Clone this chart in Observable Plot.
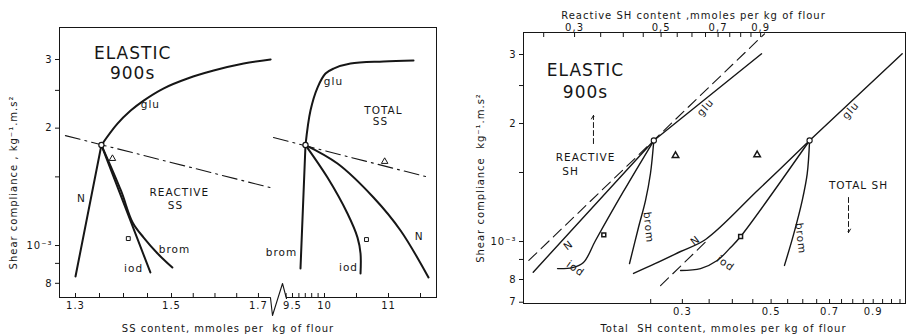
<!DOCTYPE html>
<html>
<head>
<meta charset="utf-8">
<script src="https://cdn.jsdelivr.net/npm/d3@7"></script>
<script src="https://cdn.jsdelivr.net/npm/@observablehq/plot@0.6"></script>
<style>
  html, body { margin: 0; padding: 0; background: #fff; }
  #fig { position: relative; width: 909px; height: 335px; overflow: hidden; background: #fff; }
  #fig svg { position: absolute; top: 0; }
</style>
</head>
<body>
<div id="fig"></div>
<script>
// Shear compliance after 900 s of creep, in units of 10⁻³ kg⁻¹.m.s²
// Every curve starts from the untreated flour (open circle).

// ---------- Left panel: SS content, mmoles per kg of flour ----------
const ssControl   = [[1.354, 1.81], [9.703, 1.81]];
const ssTriangles = [[1.377, 1.671], [10.94, 1.642]];
const ssSquares   = [[1.410, 1.042], [10.656, 1.036]];

const ssReactiveGlu   = [[1.354, 1.81], [1.387, 2.051], [1.415, 2.219], [1.442, 2.354], [1.483, 2.527], [1.537, 2.681], [1.597, 2.81], [1.666, 2.929], [1.728, 3.0]];
const ssReactiveN     = [[1.354, 1.81], [1.300, 0.833]];
const ssReactiveIod   = [[1.354, 1.81], [1.456, 0.853]];
const ssReactiveBrom  = [[1.354, 1.81], [1.395, 1.38], [1.419, 1.146], [1.442, 1.048], [1.471, 0.954], [1.502, 0.878]];
const ssReactiveTrend = [[1.279, 1.914], [1.727, 1.408]];

const ssTotalGlu   = [[9.703, 1.81], [9.781, 2.219], [9.891, 2.542], [10.016, 2.761], [10.141, 2.843], [10.406, 2.929], [10.922, 2.964], [11.391, 2.982]];
const ssTotalBrom  = [[9.703, 1.81], [9.625, 0.873]];
const ssTotalIod   = [[9.703, 1.81], [10.047, 1.494], [10.359, 1.208], [10.516, 1.048], [10.563, 0.954], [10.563, 0.848]];
const ssTotalN     = [[9.703, 1.81], [10.203, 1.623], [10.766, 1.328], [11.188, 1.093], [11.625, 0.828]];
const ssTotalTrend = [[9.203, 1.892], [11.578, 1.503]];

const ssTicks      = [1.3, 1.35, 1.4, 1.45, 1.5, 1.55, 1.6, 1.65, 1.7, 9.4, 9.5, 9.6, 9.7, 9.8, 9.9, 10, 10.5, 11, 11.5];
const ssTickLabels = [1.3, 1.5, 1.7, 9.5, 10, 11];
const ssAxisSegments = [[1.2667, 1.7276], [9.406, 11.75]];
const ssBreak = [[1.7276, 0.7357], [9.1875, 0.6614], [9.344, 0.7991], [9.406, 0.7312]];

const ssLabels = [
  {text: "glu", x: 1.456, y: 2.299}, {text: "N", x: 1.3125, y: 1.32},
  {text: "REACTIVE", x: 1.518, y: 1.368}, {text: "SS", x: 1.509, y: 1.266},
  {text: "iod", x: 1.421, y: 0.873}, {text: "brom", x: 1.507, y: 0.977},
  {text: "glu", x: 10.14, y: 2.634}, {text: "TOTAL", x: 10.92, y: 2.219}, {text: "SS", x: 10.875, y: 2.08},
  {text: "brom", x: 9.328, y: 0.9595}, {text: "iod", x: 10.375, y: 0.878}, {text: "N", x: 11.48, y: 1.055}
];
const ssTitle = [{text: "ELASTIC", x: 1.419, y: 3.107}, {text: "900s", x: 1.419, y: 2.761}];

// ---------- Right panel: SH content (log–log) ----------
const shReactiveControl = [[0.479, 1.81]];
const shReactiveTriangle = [[0.5445, 1.657]];
const shReactiveSquare = [[0.3565, 1.040]];
const shReactiveGlu   = [[0.479, 1.81], [0.905, 3.012]];
const shReactiveN     = [[0.479, 1.81], [0.235, 0.835]];
const shReactiveLimit = [[0.229, 0.895], [0.921, 3.388]];
const shReactiveIod   = [[0.479, 1.81], [0.40, 1.34], [0.3395, 1.006], [0.3162, 0.884], [0.2963, 0.858], [0.2713, 0.853]];
const shReactiveBrom  = [[0.479, 1.81], [0.4696, 1.491], [0.456, 1.272], [0.4375, 1.086], [0.415, 0.879]];

const shTotalControl = [[0.624, 1.81]];
const shTotalTriangle = [[0.4614, 1.664]];
const shTotalSquare = [[0.4195, 1.030]];
const shTotalGlu   = [[0.624, 1.81], [1.0635, 3.012]];
const shTotalN     = [[0.624, 1.81], [0.4624, 1.349], [0.3428, 1.012], [0.2969, 0.943], [0.257, 0.879], [0.2265, 0.829]];
const shTotalLimit = [[0.2646, 0.772], [0.3494, 1.016]];
const shTotalIod   = [[0.624, 1.81], [0.4195, 1.03], [0.3959, 0.9654], [0.3666, 0.8943], [0.3331, 0.853], [0.2969, 0.8435]];
const shTotalBrom  = [[0.624, 1.81], [0.6155, 1.488], [0.598, 1.272], [0.5696, 1.046], [0.540, 0.869]];

const shReactiveTicks = [0.25, 0.3, 0.35, 0.4, 0.45, 0.5, 0.55, 0.6, 0.65, 0.7, 0.75, 0.8, 0.85, 0.9];
const shTotalTicks = [0.25, 0.3, 0.35, 0.4, 0.45, 0.5, 0.55, 0.6, 0.65, 0.7, 0.75, 0.8, 0.85, 0.9, 0.95, 1.0, 1.05];
const shTickLabels = [0.3, 0.5, 0.7, 0.9];

const shReactiveText = [
  {text: "REACTIVE", x: 0.32, y: 1.638}, {text: "SH", x: 0.2929, y: 1.509}
];
const shReactiveTitle = [{text: "ELASTIC", x: 0.32, y: 2.731}, {text: "900s", x: 0.32, y: 2.399}];
const shReactiveArrow = [{x: 0.3354, from: 1.778, to: 2.097}];
const shReactiveCurveLabels = [
  {text: "glu", x: 0.650, y: 2.197, angle: "glu"}, {text: "N", x: 0.2894, y: 0.977, angle: "N"},
  {text: "iod", x: 0.3015, y: 0.853, angle: "iod"}, {text: "brom", x: 0.4642, y: 1.086, angle: "brom"}
];
const shTotalText = [{text: "TOTAL SH", x: 0.827, y: 1.39}];
const shTotalArrow = [{x: 0.7807, from: 1.295, to: 1.054}];
const shTotalCurveLabels = [
  {text: "glu", x: 0.790, y: 2.159, angle: "glu"}, {text: "N", x: 0.3236, y: 1.006, angle: "N"},
  {text: "iod", x: 0.3846, y: 0.879, angle: "iod"}, {text: "brom", x: 0.5923, y: 1.018, angle: "brom"}
];

// compliance ticks: 3, 2.5, 2, 1.5 ×10⁻³ …
const yTicksLeft = [3, 2.5, 2, 1.5, 1, 0.9, 0.8];
const yTicksRight = [3, 2.5, 2, 1.5, 1, 0.9, 0.8, 0.7];
const yTickText = {"3": "3", "2": "2", "1": "10⁻³", "0.8": "8", "0.7": "7"};

// ---------- drawing ----------
const INK = "#161616";
const xy = {x: d => d[0], y: d => d[1]};
const rotation = {glu: -48, N: -38, iod: 35, brom: 84};
const style = {fontFamily: "DejaVu Sans", fontSize: "10px", color: INK, background: "none", letterSpacing: "1px", overflow: "visible"};
const titleStyle = "letter-spacing:1.3px";
const yFormat = d => yTickText[String(d)] ?? "";

function curve(data, opts = {}) {
  return Plot.line(data, {...xy, stroke: INK, curve: "catmull-rom", strokeLinecap: "round", ...opts});
}
// inward tick marks only (no text)
function innerTicks(ticks, anchor) {
  return Plot.axisX({anchor, ticks, tickSize: -4, fill: "none", label: null, stroke: INK});
}
function tickLabels(ticks, anchor, format, padding) {
  return Plot.axisX({anchor, ticks, tickSize: 0, tickPadding: padding, tickFormat: format, label: null, fontSize: 10});
}

const ssY = [0.7357, 3.624];
const ssPlot = Plot.plot({
  width: 460, height: 335,
  marginLeft: 59, marginRight: 24, marginTop: 27, marginBottom: 38,
  style,
  x: {type: "linear", domain: [1.3, 1.5, 1.73, 9.172, 11], range: [75, 171, 271, 271, 388]},
  y: {type: "log", domain: ssY},
  marks: [
    Plot.frame({anchor: "top", stroke: INK}),
    Plot.frame({anchor: "left", stroke: INK}),
    Plot.frame({anchor: "right", stroke: INK}),
    Plot.ruleY(ssAxisSegments, {y: ssY[0], x1: d => d[0], x2: d => d[1], stroke: INK}),
    Plot.line(ssBreak, {...xy, stroke: INK, strokeWidth: 1.1}),
    innerTicks(ssTicks, "bottom"),
    tickLabels(ssTickLabels, "bottom", d => String(d), 4),
    Plot.axisY({ticks: yTicksLeft, tickSize: 4, tickPadding: 3, tickFormat: yFormat, label: null, fontSize: 10}),
    Plot.text(["Shear compliance , kg⁻¹.m.s²"], {frameAnchor: "left", textAnchor: "middle", lineAnchor: "middle", dx: -46, dy: 20, rotate: -90, fontSize: 10, style: titleStyle}),
    Plot.text(["SS content, mmoles per  kg of flour"], {frameAnchor: "bottom", lineAnchor: "middle", dx: -20, dy: 31, fontSize: 10, style: titleStyle}),
    curve(ssReactiveTrend, {strokeWidth: 1.1, strokeDasharray: "15,5,2,5"}),
    curve(ssTotalTrend, {strokeWidth: 1.1, strokeDasharray: "15,5,2,5"}),
    curve(ssReactiveGlu, {strokeWidth: 2}),
    curve(ssReactiveN, {strokeWidth: 2}),
    curve(ssReactiveIod, {strokeWidth: 2}),
    curve(ssReactiveBrom, {strokeWidth: 2}),
    curve(ssTotalGlu, {strokeWidth: 2}),
    curve(ssTotalBrom, {strokeWidth: 2}),
    curve(ssTotalIod, {strokeWidth: 2}),
    curve(ssTotalN, {strokeWidth: 2}),
    Plot.dot(ssControl, {...xy, r: 2.6, fill: "white", stroke: INK, strokeWidth: 1.2}),
    Plot.dot(ssTriangles, {...xy, symbol: "triangle", r: 2.4, fill: "none", stroke: INK, strokeWidth: 1}),
    Plot.dot(ssSquares, {...xy, symbol: "square", r: 2.2, fill: "none", stroke: INK, strokeWidth: 1}),
    Plot.text(ssLabels, {x: "x", y: "y", text: "text", fontSize: 10.5, fill: INK}),
    Plot.text(ssTitle, {x: "x", y: "y", text: "text", fontSize: 17, fill: INK, style: "letter-spacing:2px"})
  ]
});

const shY = [0.6948, 3.414];
const shFrame = {width: 449, height: 335, marginLeft: 63, marginRight: 4, marginTop: 32, marginBottom: 32, style};

const shTotalPlot = Plot.plot({
  ...shFrame,
  x: {type: "log", domain: [0.1202, 1.0839]},
  y: {type: "log", domain: shY},
  marks: [
    Plot.frame({stroke: INK}),
    innerTicks(shTotalTicks, "bottom"),
    tickLabels(shTickLabels, "bottom", d => d.toFixed(1), 4),
    Plot.axisY({ticks: yTicksRight, tickSize: 4, tickPadding: 3, tickFormat: yFormat, label: null, fontSize: 10}),
    Plot.text(["Shear compliance  kg⁻¹.m.s²"], {frameAnchor: "left", textAnchor: "middle", lineAnchor: "middle", dx: -43, dy: 10, rotate: -90, fontSize: 10, style: titleStyle}),
    Plot.text(["Total  SH content, mmoles per kg of flour"], {frameAnchor: "bottom", lineAnchor: "middle", dx: 9, dy: 25, fontSize: 10, style: titleStyle}),
    curve(shTotalLimit, {strokeWidth: 1.1, strokeDasharray: "11,6"}),
    curve(shTotalGlu, {strokeWidth: 1.4}),
    curve(shTotalN, {strokeWidth: 1.4}),
    curve(shTotalIod, {strokeWidth: 1.4}),
    curve(shTotalBrom, {strokeWidth: 1.4}),
    Plot.dot(shTotalControl, {...xy, r: 2.6, fill: "white", stroke: INK, strokeWidth: 1.1}),
    Plot.dot(shTotalTriangle, {...xy, symbol: "triangle", r: 2.4, fill: "none", stroke: INK}),
    Plot.dot(shTotalSquare, {...xy, symbol: "square", r: 2.2, fill: "white", stroke: INK}),
    Plot.text(shTotalText, {x: "x", y: "y", text: "text", fontSize: 10.5, fill: INK}),
    Plot.arrow(shTotalArrow, {x1: "x", x2: "x", y1: "from", y2: "to", stroke: INK, strokeWidth: 1, strokeDasharray: "5,3", headLength: 6}),
    ...Object.keys(rotation).map(k => Plot.text(shTotalCurveLabels.filter(d => d.angle === k), {x: "x", y: "y", text: "text", rotate: rotation[k], fontSize: 10.5, fill: INK}))
  ]
});

// Same frame and compliance scale, but x follows the reactive SH content on the top axis
const shReactivePlot = Plot.plot({
  ...shFrame,
  x: {type: "log", domain: [0.2219, 2.117]},
  y: {type: "log", domain: shY, axis: null},
  marks: [
    innerTicks(shReactiveTicks, "top"),
    tickLabels(shTickLabels, "top", d => d.toFixed(1).replace(".", ","), 2),
    Plot.text(["Reactive SH content ,mmoles per kg of flour"], {frameAnchor: "top", lineAnchor: "middle", dx: -21, dy: -17, fontSize: 10, style: titleStyle}),
    curve(shReactiveLimit, {strokeWidth: 1.1, strokeDasharray: "11,6"}),
    curve(shReactiveGlu, {strokeWidth: 1.4}),
    curve(shReactiveN, {strokeWidth: 1.4}),
    curve(shReactiveIod, {strokeWidth: 1.4}),
    curve(shReactiveBrom, {strokeWidth: 1.4}),
    Plot.dot(shReactiveControl, {...xy, r: 2.6, fill: "white", stroke: INK, strokeWidth: 1.1}),
    Plot.dot(shReactiveTriangle, {...xy, symbol: "triangle", r: 2.4, fill: "none", stroke: INK}),
    Plot.dot(shReactiveSquare, {...xy, symbol: "square", r: 2.2, fill: "none", stroke: INK}),
    Plot.text(shReactiveText, {x: "x", y: "y", text: "text", fontSize: 10.5, fill: INK}),
    Plot.text(shReactiveTitle, {x: "x", y: "y", text: "text", fontSize: 17, fill: INK, style: "letter-spacing:2px"}),
    Plot.arrow(shReactiveArrow, {x1: "x", x2: "x", y1: "from", y2: "to", stroke: INK, strokeWidth: 1, strokeDasharray: "5,3", headLength: 6}),
    ...Object.keys(rotation).map(k => Plot.text(shReactiveCurveLabels.filter(d => d.angle === k), {x: "x", y: "y", text: "text", rotate: rotation[k], fontSize: 10.5, fill: INK}))
  ]
});

const fig = document.getElementById("fig");
ssPlot.style.left = "0px";
shTotalPlot.style.left = "460px";
shReactivePlot.style.left = "460px";
fig.append(ssPlot, shTotalPlot, shReactivePlot);
</script>
</body>
</html>
